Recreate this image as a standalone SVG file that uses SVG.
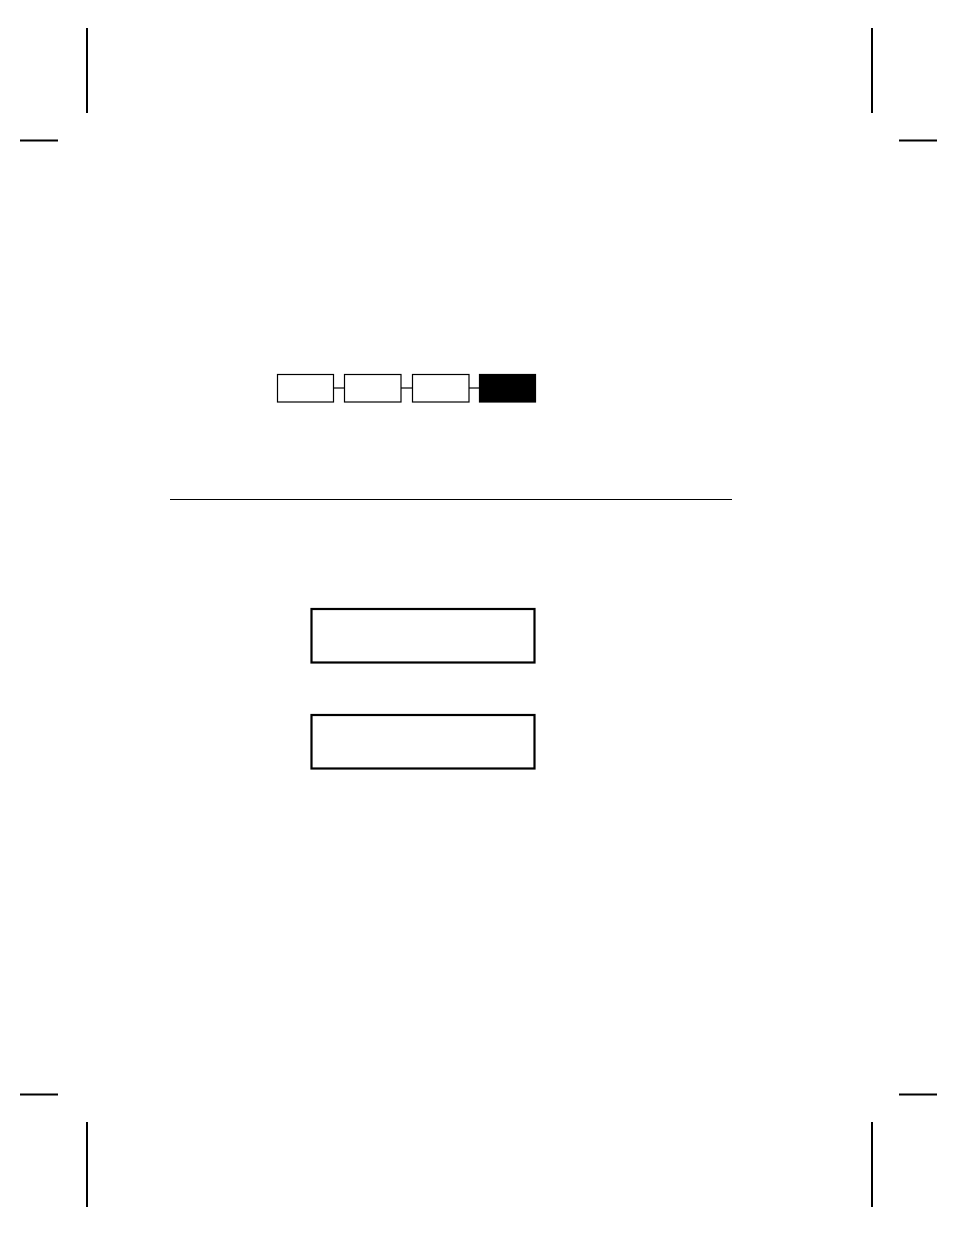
<svg xmlns="http://www.w3.org/2000/svg" width="954" height="1235" viewBox="0 0 954 1235">
<style>
.crop{stroke:#000;stroke-width:2;fill:none}
.box{fill:#fff;stroke:#000;stroke-width:1.2}
.dark{fill:#000;stroke:#000;stroke-width:1.2}
.lcd{fill:#fff;stroke:#000;stroke-width:2.2}
.conn{stroke:#000;stroke-width:1.2;fill:none}
</style>
<rect width="954" height="1235" fill="#fff"/>
<g id="cropmarks">
<line class="crop" x1="87" y1="28" x2="87" y2="113"/>
<line class="crop" x1="20" y1="140.5" x2="58" y2="140.5"/>
<line class="crop" x1="872" y1="28" x2="872" y2="113"/>
<line class="crop" x1="899" y1="140.5" x2="937" y2="140.5"/>
<line class="crop" x1="20" y1="1094.5" x2="58" y2="1094.5"/>
<line class="crop" x1="87" y1="1122" x2="87" y2="1207"/>
<line class="crop" x1="899" y1="1094.5" x2="937" y2="1094.5"/>
<line class="crop" x1="872" y1="1122" x2="872" y2="1207"/>
</g>
<g id="connectors">
<line class="conn" x1="333.5" y1="388" x2="344" y2="388"/>
<line class="conn" x1="401" y1="388" x2="412.5" y2="388"/>
<line class="conn" x1="469" y1="388" x2="479" y2="388"/>
</g>
<g id="step1"><rect class="box" x="277.5" y="374.5" width="56" height="27.5"/></g>
<g id="step2"><rect class="box" x="344.5" y="374.5" width="56.5" height="27.5"/></g>
<g id="step3"><rect class="box" x="412.5" y="374.5" width="56.5" height="27.5"/></g>
<g id="step4"><rect class="dark" x="479.5" y="374.5" width="56" height="27.5"/></g>
<g id="rule"><line x1="170" y1="499.5" x2="732" y2="499.5" stroke="#000" stroke-width="1.2"/></g>
<g id="display1"><rect class="lcd" x="311.5" y="609" width="223" height="53.5"/></g>
<g id="display2"><rect class="lcd" x="311.5" y="715" width="223" height="53.5"/></g>
</svg>
